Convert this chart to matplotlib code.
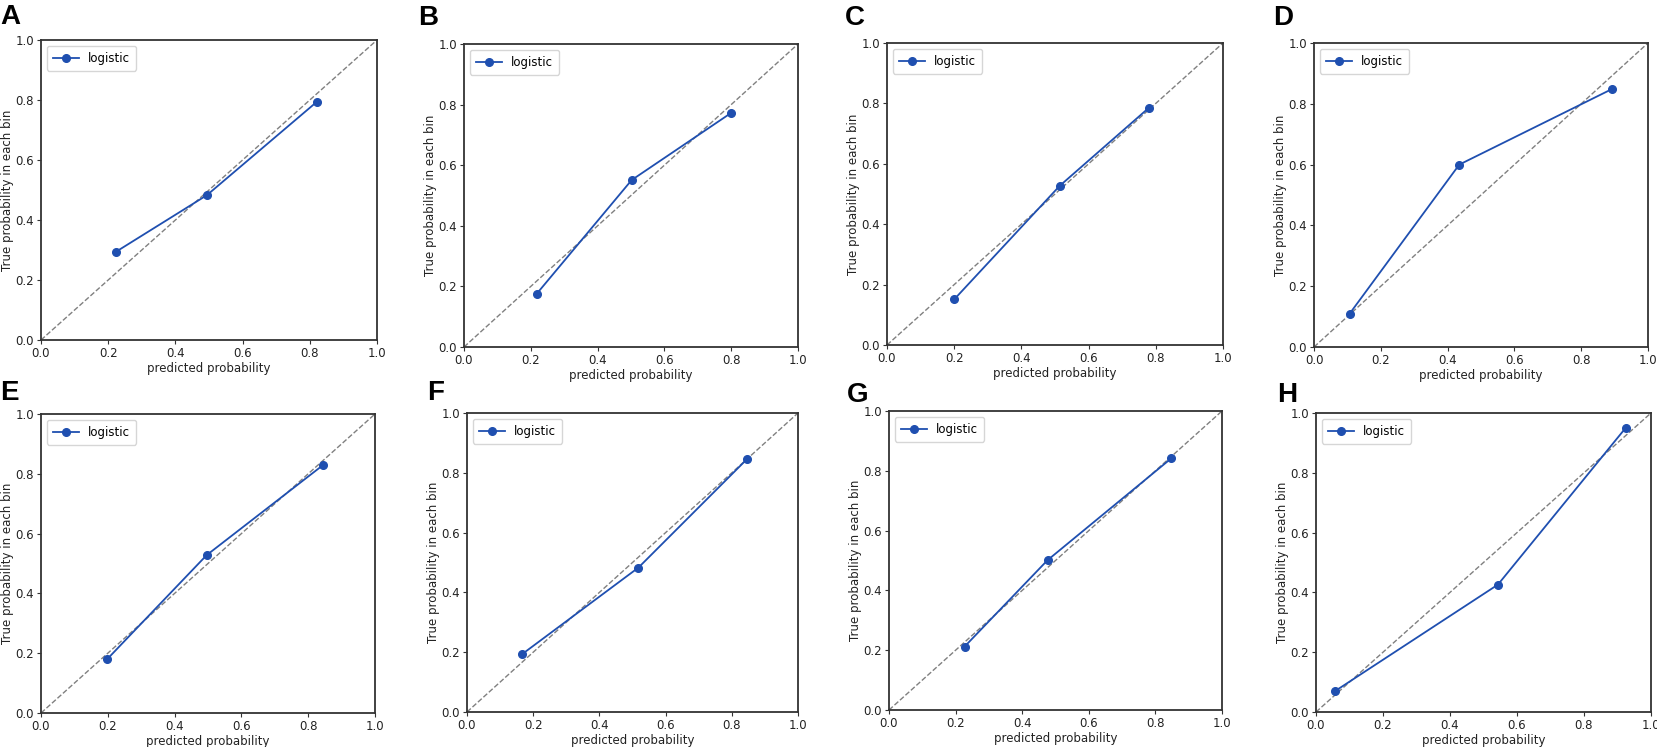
import matplotlib
matplotlib.use('Agg')
import matplotlib.pyplot as plt

W, H = 1658, 747

panel_labels = ['A', 'B', 'C', 'D', 'E', 'F', 'G', 'H']
pred = [
    [0.223, 0.494, 0.821],
    [0.218, 0.502, 0.799],
    [0.200, 0.514, 0.779],
    [0.107, 0.435, 0.893],
    [0.199, 0.496, 0.843],
    [0.166, 0.518, 0.847],
    [0.227, 0.476, 0.848],
    [0.057, 0.543, 0.925],
]
true = [
    [0.294, 0.483, 0.794],
    [0.176, 0.551, 0.772],
    [0.151, 0.527, 0.785],
    [0.110, 0.600, 0.849],
    [0.181, 0.528, 0.828],
    [0.193, 0.483, 0.847],
    [0.212, 0.501, 0.842],
    [0.070, 0.426, 0.951],
]
ticks = [0.0, 0.2, 0.4, 0.6, 0.8, 1.0]

# axes boxes in pixels: left, right, top, bottom
boxes = [
    (41, 377, 40, 340), (464, 798, 44, 347), (887, 1223, 43, 345), (1314, 1648, 43, 347),
    (41, 375, 414, 713), (467, 798, 413, 712), (889, 1222, 411, 710), (1316, 1651, 413, 712),
]
# panel letter positions (pixel x, pixel y of top)
letters = [(0, 4), (418, 5), (845, 5), (1273, 5), (0, 380), (427, 380), (847, 382), (1277, 382)]

plt.rcParams['font.family'] = ['DejaVu Sans']
fig = plt.figure(figsize=(W / 100, H / 100), dpi=100)

blue = '#1f4fb0'
for k in range(8):
    l, r, t, b = boxes[k]
    ax = fig.add_axes([l / W, 1 - b / H, (r - l) / W, (b - t) / H])
    ax.plot([0, 1], [0, 1], '--', color='#808080', linewidth=1.0)
    ax.plot(pred[k], true[k], '-o', color=blue, linewidth=1.3, markersize=5.5, label='logistic')
    ax.set_xlim(0, 1)
    ax.set_ylim(0, 1)
    ax.set_xticks(ticks)
    ax.set_yticks(ticks)
    ax.tick_params(labelsize=8.5, length=3, pad=2, color='#333333', labelcolor='#222222')
    ax.set_xlabel('predicted probability', fontsize=8.5, labelpad=1.5, color='#222222')
    ax.set_ylabel('True probability in each bin', fontsize=8.5, labelpad=1, color='#222222')
    for s in ax.spines.values():
        s.set_linewidth(1.3)
        s.set_color('#333333')
    ax.legend(loc='upper left', fontsize=8.5, handlelength=2.2, borderpad=0.5)
    lx, ly = letters[k]
    fig.text(lx / W, 1 - ly / H, panel_labels[k], fontsize=20, fontweight='bold',
             ha='left', va='top', family='Liberation Sans')

plt.savefig('out.png', dpi=100)
